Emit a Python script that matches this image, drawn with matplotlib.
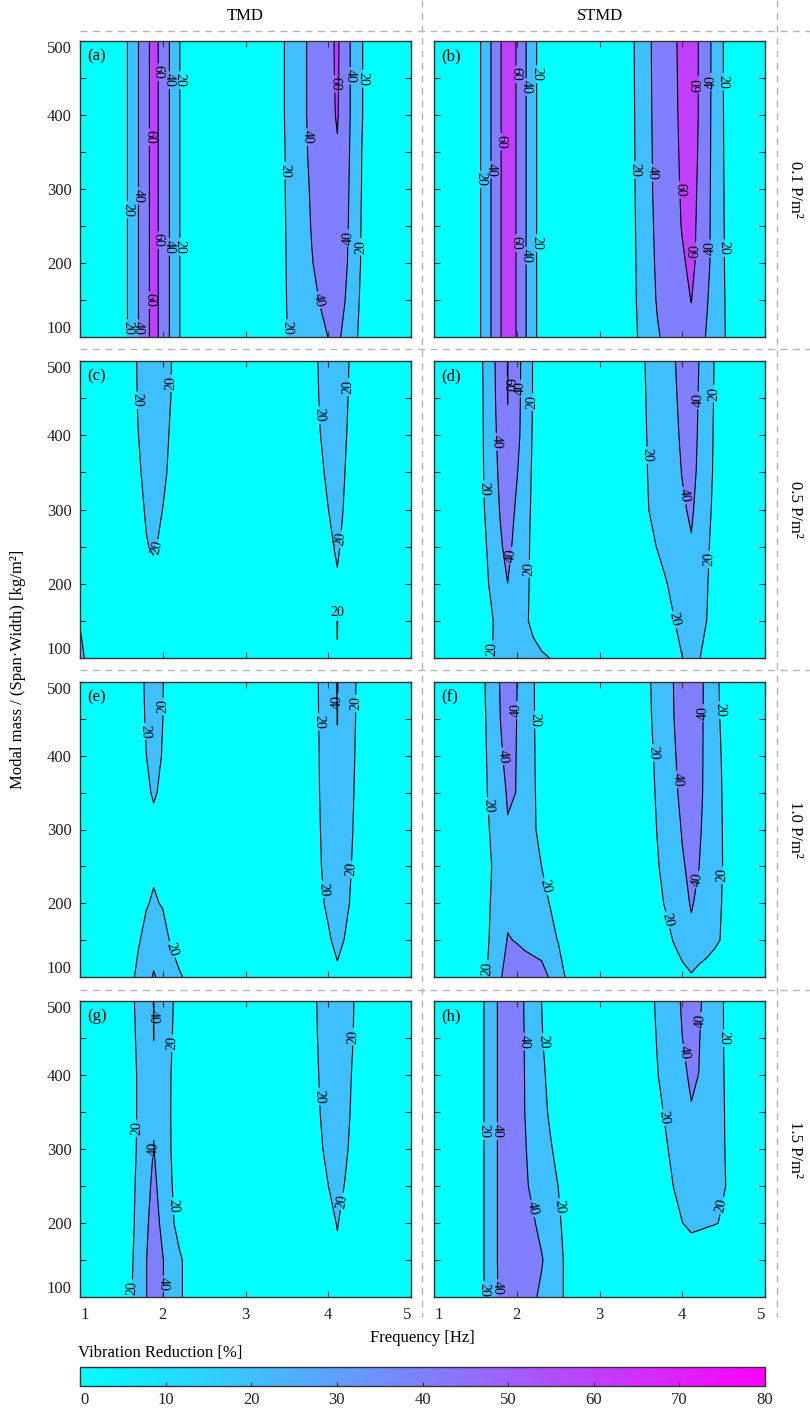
import numpy as np
import matplotlib.pyplot as plt
from matplotlib.lines import Line2D
from matplotlib.colors import Normalize
from matplotlib.cm import ScalarMappable

plt.rcParams['font.family'] = ['Liberation Serif', 'DejaVu Serif']
plt.rcParams['font.size'] = 12

# grid of the maps
freq = [1.0, 1.5, 1.6, 1.7, 1.8, 1.89, 2.0, 2.1, 2.2, 2.3, 2.4, 2.5, 2.6, 3.0,
        3.4, 3.5, 3.6, 3.7, 3.8, 3.9, 4.0, 4.11, 4.2, 4.3, 4.4, 4.5, 4.6, 5.0]
mass = [100, 150, 200, 250, 300, 350, 400, 450, 500]

# vibration reduction [%], one row per mass (100 -> 500)
tmd_01 = [
    [0, 9, 24, 39, 54, 68, 52, 37, 21, 6, 0, 0, 0, 0, 15.8, 19.8, 23.8, 27.9, 31.9, 36, 40.2, 44, 35.1, 25.4, 15.6, 5.9, 0, 0],
    [0, 9, 24, 39, 54, 68, 52, 37, 21, 6, 0, 0, 0, 0, 14.9, 20.2, 25.4, 30.6, 35.8, 40.7, 44.2, 48, 40.5, 28.6, 17.1, 5.7, 0, 0],
    [0, 9, 24, 39, 54, 68, 52, 37, 21, 6, 0, 0, 0, 0, 14.4, 20.6, 26.8, 33, 39.3, 43.5, 47.6, 52, 43.7, 32, 18.7, 5.3, 0, 0],
    [0, 9, 24, 39, 54, 68, 52, 37, 21, 6, 0, 0, 0, 0, 14.2, 21, 27.8, 34.6, 40.8, 45.1, 49.3, 54, 45, 33.1, 19.3, 5.5, 0, 0],
    [0, 9, 24, 39, 54, 68, 52, 37, 21, 6, 0, 0, 0, 0, 14.3, 21.4, 28.6, 35.7, 41.8, 46.4, 51, 56, 46.1, 33.8, 20.2, 6.2, 0, 0],
    [0, 9, 24, 39, 54, 68, 52, 37, 21, 6, 0, 0, 0, 0, 14, 21.7, 29.3, 37, 43, 48, 53, 58.5, 47.4, 34.5, 20.7, 6.9, 0, 0],
    [0, 9, 24, 39, 54, 68, 52, 37, 21, 6, 0, 0, 0, 0, 14.6, 22.3, 30, 37.6, 43.8, 49.3, 54.8, 61.5, 48.9, 35.2, 22.1, 9, 0, 0],
    [0, 9, 24, 39, 54, 68, 52, 37, 21, 6, 0, 0, 0, 0, 14.6, 22.3, 30, 37.6, 43.8, 49.3, 54.8, 62.5, 48.9, 35.2, 22.1, 9, 0, 0],
    [0, 9, 24, 39, 54, 68, 52, 37, 21, 6, 0, 0, 0, 0, 14.6, 22.3, 30, 37.6, 43.8, 49.3, 54.8, 63, 48.9, 35.2, 22.1, 9, 0, 0],
]
stmd_01 = [
    [0, 9.8, 25.8, 41.8, 58.3, 72, 58.9, 42, 26.3, 10.6, 0, 0, 0, 0, 15.4, 23.1, 30.8, 38.5, 43.1, 46.9, 50.8, 55, 47.1, 38.3, 30, 21.7, 13.3, 0],
    [0, 9.8, 25.8, 41.8, 58.3, 72, 58.9, 42, 26.3, 10.6, 0, 0, 0, 0, 16, 24.9, 33.8, 41.4, 46, 50.7, 55.3, 60.4, 51.2, 41, 31.2, 21.5, 11.7, 0],
    [0, 9.8, 25.8, 41.8, 58.3, 72, 58.9, 42, 26.3, 10.6, 0, 0, 0, 0, 16.2, 25.7, 35.2, 42.6, 47.8, 53.1, 58.3, 63, 56.9, 43.9, 32.6, 21.1, 9.7, 0],
    [0, 9.8, 25.8, 41.8, 58.3, 72, 58.9, 42, 26.3, 10.6, 0, 0, 0, 0, 16.6, 26.3, 36.1, 43.5, 49.4, 55.3, 60.8, 65, 56.8, 44.3, 32.6, 20.8, 8.9, 0],
    [0, 9.8, 25.8, 41.8, 58.3, 72, 58.9, 42, 26.3, 10.6, 0, 0, 0, 0, 17, 27, 37, 44.2, 50.1, 56.1, 61.7, 67, 57.3, 44.8, 32.7, 20.6, 8.5, 0],
    [0, 9.8, 25.8, 41.8, 58.3, 72, 58.9, 42, 26.3, 10.6, 0, 0, 0, 0, 17.3, 27.3, 37.3, 44.5, 50.5, 56.7, 62.4, 68, 58.5, 45.4, 32.7, 20.1, 7.2, 0],
    [0, 9.8, 25.8, 41.8, 58.3, 72, 58.9, 42, 26.3, 10.6, 0, 0, 0, 0, 17.5, 27.6, 37.7, 44.8, 51, 57.3, 63, 69, 59.3, 45.8, 32.8, 19.8, 6.5, 0],
    [0, 9.8, 25.8, 41.8, 58.3, 72, 58.9, 42, 26.3, 10.6, 0, 0, 0, 0, 17.8, 27.9, 38, 45, 51.3, 57.6, 63.4, 69.5, 59.3, 46, 32.9, 19.6, 6.2, 0],
    [0, 9.8, 25.8, 41.8, 58.3, 72, 58.9, 42, 26.3, 10.6, 0, 0, 0, 0, 18, 28.1, 38.2, 45.2, 51.6, 57.9, 63.8, 70, 59.3, 46.1, 32.9, 19.5, 6, 0],
]
tmd_05 = [
    [22, 3, 8, 11, 14, 19.5, 14, 11, 8, 3, 0, 0, 0, 0, 0, 0, 2, 5, 8, 11, 14, 19.7, 14, 10, 5, 2, 0, 0],
    [19.6, 3, 8, 11, 14, 15, 14, 11, 8, 3, 0, 0, 0, 0, 0, 0, 2, 5, 8, 11, 14, 20.3, 14, 10, 5, 2, 0, 0],
    [0, 4, 9, 13, 16, 17, 16, 13, 9, 3, 0, 0, 0, 0, 0, 0, 2, 5, 9, 13, 16, 19, 16, 11, 6, 2, 0, 0],
    [0, 5, 10, 15, 19.5, 21, 18, 15, 10, 4, 0, 0, 0, 0, 0, 0, 2, 6, 10, 14, 18, 21.3, 17.5, 12, 6, 2, 0, 0],
    [0, 5, 11, 17.5, 20.8, 24, 19.9, 16, 10, 4, 0, 0, 0, 0, 0, 0, 2, 6, 11, 16, 19.9, 23.5, 19, 13, 7, 2, 0, 0],
    [0, 5, 12, 18.5, 22.5, 26, 22, 18, 11, 4, 0, 0, 0, 0, 0, 0, 3, 7, 12, 18, 22, 26, 20.1, 14, 7, 2, 0, 0],
    [0, 6, 12.5, 19.7, 23.8, 27.5, 22.5, 19.1, 12, 5, 0, 0, 0, 0, 0, 0, 3, 7, 13, 19.7, 24, 27.5, 21.5, 15, 8, 2, 0, 0],
    [0, 6, 13, 20.8, 25, 29, 24, 19.9, 12, 5, 0, 0, 0, 0, 0, 0, 3, 8, 14, 21, 25, 29, 23, 15.5, 8, 2, 0, 0],
    [0, 8, 14, 21, 26, 30, 25, 20.4, 12, 5, 0, 0, 0, 0, 0, 0, 3, 8, 14, 22, 26, 30, 24, 16, 8, 2, 0, 0],
]
stmd_05 = [
    [0, 6.7, 13.2, 19.7, 26.2, 32, 29.4, 27, 24.7, 22.4, 19.9, 14, 8, 0, 0, 0, 0, 0, 6, 13, 19.8, 27, 21.6, 12, 5, 0, 0, 0],
    [0, 2, 9.5, 18.6, 27.8, 36, 29, 22.6, 16.2, 9.8, 3, 0, 0, 0, 0, 0, 3, 8.5, 14, 19.5, 25, 31, 25.6, 19.7, 13.8, 7.8, 2, 0],
    [0, 6.1, 14.8, 23.5, 32.2, 39.9, 31.5, 23.8, 16.2, 8.5, 0, 0, 0, 0, 0, 3.5, 8.6, 13.8, 19, 24.1, 29.3, 35, 28.3, 20.8, 13.3, 5.8, 0, 0],
    [0, 5.4, 16.2, 27, 37.8, 45, 33.8, 24.9, 16, 7.1, 0, 0, 0, 0, 7.4, 11.8, 16.2, 20.7, 25.1, 29.5, 33.9, 38.8, 31, 22.3, 13.7, 5, 0, 0],
    [0, 7.8, 18.9, 30, 41, 50, 36.9, 26.7, 16.4, 6.2, 0, 0, 0, 0, 11.2, 15.7, 20.2, 24.7, 29.2, 33.7, 38.2, 42, 35.4, 25.1, 14.9, 4.6, 0, 0],
    [0, 8.4, 20.1, 31.6, 43.6, 55, 41.3, 29.1, 17, 4.9, 0, 0, 0, 0, 11.2, 16.1, 21, 25.9, 30.7, 35.6, 40.5, 45.5, 36.9, 26.7, 16.5, 6.3, 0, 0],
    [0, 8.1, 20.5, 32.9, 46.1, 59, 45.1, 31.7, 17.9, 4.1, 0, 0, 0, 0, 11.3, 16.4, 21.5, 26.7, 31.8, 36.9, 42.1, 48, 37.9, 27.5, 17.1, 6.7, 0, 0],
    [0, 8, 21, 34.1, 47.7, 60.2, 45.9, 32.4, 18.6, 4.8, 0, 0, 0, 0, 11.6, 16.8, 22.1, 27.4, 32.6, 37.9, 43.5, 50, 38.9, 28.3, 17.7, 7, 0, 0],
    [0, 8.2, 21.6, 35, 48.4, 60.4, 46.4, 32.9, 18.6, 4.3, 0, 0, 0, 0, 11.9, 17.3, 22.7, 28.1, 33.5, 38.9, 45.1, 52, 40.1, 29.1, 18.3, 7.4, 0, 0],
]
tmd_10 = [
    [0, 8, 16, 23, 32, 42, 33, 27, 22, 17, 10, 4, 0, 0, 0, 0, 0, 0, 5, 9, 13, 16.9, 13, 9, 5, 0, 0, 0],
    [0, 5, 12, 18.5, 24, 30, 25.5, 18.5, 12, 6, 0, 0, 0, 0, 0, 0, 0, 2, 7.5, 12.8, 18.1, 24, 19.5, 14.5, 9.5, 4.5, 0, 0],
    [0, 5, 10, 15, 19, 21.5, 19, 15, 10, 5, 0, 0, 0, 0, 0, 0, 0, 7.5, 12.5, 17.5, 22.5, 28, 23.1, 17.6, 12.1, 6.6, 0, 0],
    [0, 4, 8, 12, 16, 18, 16, 13, 9, 4, 0, 0, 0, 0, 0, 0, 0, 6.4, 12.6, 18.9, 25.1, 32, 25.6, 18.6, 11.5, 4.5, 0, 0],
    [0, 4, 9, 13, 17, 18.5, 17, 13, 9, 4, 0, 0, 0, 0, 0, 0, 0, 5, 12.3, 19.6, 27, 35, 27.8, 19.8, 11.8, 3.8, 0, 0],
    [0, 5, 10, 15, 19, 20.6, 19, 15, 10, 5, 0, 0, 0, 0, 0, 0, 0, 4.6, 12.5, 20.4, 28.3, 37, 29.4, 20.9, 12.4, 3.9, 0, 0],
    [0, 5, 10, 15, 19.9, 23, 19.5, 15, 10, 5, 0, 0, 0, 0, 0, 0, 0, 3.5, 12, 20.9, 29.8, 39, 31, 21.9, 12.8, 3.7, 0, 0],
    [0, 6, 11, 16.3, 20.8, 24.5, 20.05, 15, 10, 5, 0, 0, 0, 0, 0, 0, 0, 3.6, 12.5, 21.5, 30.4, 40.2, 32, 22.8, 13.6, 4.4, 0, 0],
    [0, 6, 11.2, 16.3, 21.4, 26, 20.4, 15, 10, 5, 0, 0, 0, 0, 0, 0, 0, 3.9, 12.8, 21.8, 30.7, 40.6, 32.4, 23.2, 14, 4.9, 0, 0],
]
stmd_10 = [
    [0, 5, 16, 27, 38, 48, 47, 47.4, 49.4, 49.4, 37.9, 28.3, 18.3, 0, 0, 0, 0, 0, 5, 10, 14, 18, 14, 12, 10, 8, 5, 0],
    [0, 4.5, 13.9, 23.3, 32.7, 40.75, 39.3, 37, 33, 28, 24, 19.5, 15, 0, 0, 0, 0.2, 7.2, 14.2, 21.2, 28.2, 36, 31.8, 27.2, 22.6, 18, 13.4, 0],
    [0, 5.4, 13.5, 21.6, 29.7, 37, 33.3, 29.9, 26.5, 23.1, 19.7, 16.3, 12.9, 0, 0, 2.5, 8.9, 15.2, 21.6, 27.9, 34.3, 41.4, 36.4, 30.4, 24.5, 18.5, 12.5, 0],
    [0, 3.7, 12, 20.25, 28.5, 36, 31.7, 27.8, 23.9, 19.95, 16, 12, 8, 0, 0, 5.3, 12, 18.7, 25.3, 32, 38.7, 43, 40.3, 33.5, 26.3, 19.1, 11.9, 0],
    [0, 5.3, 14, 22.6, 31.2, 39, 32.9, 27.4, 21.8, 16.3, 10.8, 5, 0, 0, 0, 6.7, 13.7, 20.7, 27.7, 34.7, 40.9, 45, 41.8, 35.7, 27.2, 18.7, 10.2, 0],
    [0, 6.9, 16, 25.1, 34.2, 41.5, 39.8, 30.7, 22.2, 13.7, 5.3, 0, 0, 0, 0, 6.9, 14.6, 22.3, 30, 37.7, 42.7, 47, 42.9, 36.7, 27.4, 18.1, 8.9, 0],
    [0, 5.3, 16.2, 27.1, 38, 44, 39.7, 30.7, 21.8, 12.9, 4, 0, 0, 0, 0.8, 8.4, 16, 23.6, 31.3, 38.9, 43.5, 48, 43.4, 36.6, 26.8, 17.1, 7.3, 0],
    [0, 5.7, 17.1, 28.6, 39.9, 46, 39.9, 30.7, 21.4, 12.1, 2.8, 0, 0, 0, 3, 10.4, 17.8, 25.2, 32.6, 39.95, 44.3, 49, 43.8, 36.4, 25.8, 15.2, 4.7, 0],
    [0, 6.7, 18.2, 29.7, 40.8, 48, 40.4, 30.9, 21.2, 11.4, 1.7, 0, 0, 0, 4.1, 11.4, 18.7, 26, 33.2, 40.5, 44.9, 50, 44.3, 36.3, 25, 13.7, 2.4, 0],
]
tmd_15 = [
    [0, 5.6, 16.9, 28.1, 39.3, 50, 40.7, 31.9, 23.2, 14.5, 5.8, 0, 0, 0, 3, 5, 7, 8, 9, 11, 13, 15, 13, 11, 9, 7, 5, 0],
    [0, 3.1, 15.2, 27.2, 39.3, 50, 40.7, 31.9, 23.2, 14.5, 5.8, 0, 0, 0, 4, 6, 8, 9, 10, 12, 14, 17, 14, 12, 10, 8, 6, 0],
    [0, 1.8, 13.5, 25.3, 37.1, 47, 36, 24.2, 12.5, 0.7, 0, 0, 0, 0, 6, 8, 10, 11, 12, 13.5, 15, 20.8, 15, 13, 11, 9, 7, 0],
    [0, 2.6, 13.2, 23.7, 34.2, 44, 32.4, 21.6, 10.8, 0, 0, 0, 0, 0, 8, 10, 12, 14, 16, 18, 19.95, 22, 19.8, 17.5, 15, 12.5, 10, 0],
    [0, 2, 12, 22, 32, 40.5, 29.8, 19.9, 10, 0, 0, 0, 0, 0, 7.8, 10, 12.3, 14.6, 16.9, 19.2, 21.5, 24, 21.2, 18.2, 15.1, 12, 8.9, 0],
    [0, 3.3, 12.3, 21.4, 30.4, 38.5, 28.8, 19.7, 11, 2.3, 0, 0, 0, 0, 5.7, 8.6, 11.4, 14.3, 17.1, 19.95, 22.9, 26, 22.5, 18.6, 14.8, 10.9, 7, 0],
    [0, 3.3, 12.3, 21.4, 30.4, 38.5, 28.8, 19.95, 11.2, 2.4, 0, 0, 0, 0, 3.8, 7.2, 10.5, 13.8, 17.2, 20.5, 23.8, 27.5, 23.5, 19.1, 14.7, 10.3, 5.9, 0],
    [0, 4.5, 13.6, 22.7, 31.8, 40.1, 30.3, 21.3, 12.4, 3.5, 0, 0, 0, 0, 2.4, 6.1, 9.9, 13.6, 17.4, 21.1, 24.9, 29, 24.8, 20.05, 15.3, 10.6, 5.9, 0],
    [0, 6.3, 15, 23.7, 32.5, 40.3, 30.9, 22.4, 13.9, 5.4, 0, 0, 0, 0, 1.6, 5.6, 9.6, 13.6, 17.6, 21.6, 25.6, 30, 25.5, 20.5, 15.5, 10.5, 5.5, 0],
]
stmd_15 = [
    [0, 6.4, 19.5, 32, 43, 51, 47.5, 44.5, 42, 37.4, 30.8, 24.2, 17.5, 0, 0, 0, 0, 2, 3, 4, 5, 8, 7, 5, 3, 2, 2, 0],
    [0, 6.4, 19.5, 32.5, 43.9, 52, 49.1, 46.4, 43.7, 41.1, 34.6, 25.6, 16.7, 0, 0, 0, 0, 2, 3, 4, 5, 9, 8, 4.7, 2, 2, 2, 0],
    [0, 6.4, 19.5, 32.5, 43.9, 52, 48.2, 44.8, 41.4, 35.9, 29.2, 22.4, 15.6, 0, 0, 0, 4, 8, 12, 16, 19.8, 24, 23, 22, 20.8, 18.5, 15, 0],
    [0, 6.4, 19.5, 32.5, 43.9, 52, 46.7, 42.2, 36.7, 31.1, 25.6, 19.95, 14.4, 0, 0, 0, 6.6, 11.2, 15.8, 20.4, 25, 30, 27.8, 25.4, 23, 20.6, 18.2, 0],
    [0, 6.4, 19.5, 32.5, 43.9, 52, 46.1, 41, 34.6, 28.3, 21.9, 15.6, 9.2, 0, 0, 1.1, 6.9, 12.6, 18.3, 24, 29.7, 36, 32.4, 28.5, 24.5, 20.6, 16.6, 0],
    [0, 6.4, 19.5, 32.5, 43.9, 52, 45.8, 39.8, 32.5, 25.3, 18, 10.8, 3.6, 0, 0, 4.6, 10.3, 16, 21.7, 27.4, 33.1, 39.4, 35, 30.2, 25.3, 20.5, 15.6, 0],
    [0, 6.4, 19.5, 32.5, 43.9, 52, 45.7, 39.6, 31.6, 23.6, 15.6, 7.6, 0, 0, 0.6, 6.9, 13.1, 19.4, 25.6, 31.9, 38.1, 41.5, 39.9, 33.4, 26.9, 20.3, 13.8, 0],
    [0, 6.4, 19.5, 32.5, 43.9, 52, 45.5, 39.3, 30.3, 21.3, 12.4, 3.4, 0, 0, 1.9, 8.3, 14.6, 21, 27.3, 33.7, 39.9, 43.5, 40.8, 34.5, 27.3, 19.95, 12.7, 0],
    [0, 6.4, 19.5, 32.5, 43.9, 52, 45.4, 39, 29.5, 19.95, 10.5, 1, 0, 0, 2.6, 9.2, 15.8, 22.4, 29, 35.7, 41.4, 46, 42.1, 35.8, 27.8, 19.8, 11.8, 0],
]

# where the contour numbers sit (frequency, mass)
lbl_a = [(1.91, 458), (2.07, 447), (2.21, 447), (1.83, 370), (1.70, 291), (1.56, 272),
         (1.95, 231), (2.07, 222), (2.21, 222), (1.83, 150), (1.57, 112), (1.70, 112),
         (4.10, 442), (4.26, 453), (4.40, 449), (3.76, 370), (3.48, 325), (4.22, 234),
         (4.38, 222), (3.88, 150), (3.52, 112)]
lbl_b = [(1.96, 455), (2.10, 438), (2.26, 455), (1.81, 364), (1.68, 326), (1.56, 313),
         (1.96, 227), (2.10, 210), (2.26, 227), (4.17, 441), (4.32, 445), (4.50, 445),
         (3.43, 326), (3.63, 322), (3.97, 299), (4.13, 216), (4.31, 220), (4.50, 220)]
lbl_c = [(1.69, 447), (2.10, 470), (1.96, 247), (3.90, 427), (4.24, 465), (4.16, 260),
         (4.12, 168)]
lbl_d = [(1.89, 468), (2.06, 463), (2.18, 445), (1.75, 391), (1.60, 328), (1.91, 238),
         (2.15, 220), (1.70, 112), (4.19, 447), (4.38, 456), (3.57, 373), (4.05, 319),
         (4.32, 233), (3.90, 152)]
lbl_e = [(1.80, 433), (2.00, 467), (2.13, 138), (3.89, 446), (4.11, 473), (4.33, 471),
         (3.93, 219), (4.27, 246)]
lbl_f = [(2.00, 462), (2.21, 449), (1.82, 399), (1.66, 332), (2.36, 223), (1.64, 111),
         (4.25, 458), (4.46, 462), (3.67, 404), (3.93, 368), (4.18, 232), (4.48, 238),
         (3.85, 178)]
lbl_g = [(1.89, 479), (2.11, 443), (1.65, 328), (1.82, 301), (2.14, 223), (1.62, 112),
         (2.00, 117), (4.30, 452), (3.89, 371), (4.18, 229)]
lbl_h = [(2.08, 445), (2.32, 445), (1.60, 324), (1.78, 324), (2.21, 220), (2.52, 222),
         (1.58, 110), (1.75, 112), (4.25, 473), (4.01, 430), (4.49, 450), (3.79, 343),
         (4.46, 224)]

panels = [tmd_01, stmd_01, tmd_05, stmd_05, tmd_10, stmd_10, tmd_15, stmd_15]
label_pos = [lbl_a, lbl_b, lbl_c, lbl_d, lbl_e, lbl_f, lbl_g, lbl_h]
tags = ['(a)', '(b)', '(c)', '(d)', '(e)', '(f)', '(g)', '(h)']
col_titles = ['TMD', 'STMD']
row_titles = ['0.1 P/m²', '0.5 P/m²', '1.0 P/m²', '1.5 P/m²']
levels = [0, 20, 40, 60, 80]

W, H = 810, 1410
def box(l, t, r, b):
    return [l / W, 1 - b / H, (r - l) / W, (b - t) / H]

cols_px = [(80, 411), (434, 765)]
rows_px = [(41, 337), (361, 658), (682, 977), (1001, 1297)]

cmap = plt.get_cmap('cool')
fills = [cmap(0.0), cmap(0.25), cmap(0.5), cmap(0.75)]

fig = plt.figure(figsize=(8.1, 14.1), dpi=100)

for k, Z in enumerate(panels):
    r, c = divmod(k, 2)
    ax = fig.add_axes(box(cols_px[c][0], rows_px[r][0], cols_px[c][1], rows_px[r][1]))
    Z = np.array(Z)
    ax.contourf(freq, mass, Z, levels=levels, colors=fills)
    cs = ax.contour(freq, mass, Z, levels=[20, 40, 60], colors='k', linewidths=0.8)
    ax.set_xlim(1, 5)
    ax.set_ylim(100, 500)
    ax.clabel(cs, fmt='%d', fontsize=10, inline=True, inline_spacing=2,
              manual=label_pos[k])
    ax.set_xticks([1, 2, 3, 4, 5])
    ax.set_yticks([100, 200, 300, 400, 500])
    ax.set_yticks([150, 250, 350, 450], minor=True)
    ax.tick_params(which='both', direction='in', top=True, right=True,
                   length=4, width=0.8, colors='#333333', labelcolor='#222222', labelsize=12)
    ax.tick_params(axis='y', pad=6)
    ax.tick_params(axis='x', pad=7)
    for s in ax.spines.values():
        s.set_color('#333333')
        s.set_linewidth(1)
    if c == 1:
        ax.set_yticklabels([])
    else:
        yt = ax.yaxis.get_major_ticks()
        yt[0].label1.set_va('bottom')
        yt[-1].label1.set_va('top')
    if r < 3:
        ax.set_xticklabels([])
    else:
        xt = ax.xaxis.get_major_ticks()
        xt[0].label1.set_ha('left')
        xt[-1].label1.set_ha('right')
    ax.text(0.022, 0.975, tags[k], transform=ax.transAxes, ha='left', va='top', fontsize=12)

# titles around the grid
for c in range(2):
    fig.text((cols_px[c][0] + cols_px[c][1]) / 2 / W, 1 - 16 / H, col_titles[c],
             ha='center', va='center', fontsize=12)
for r in range(4):
    fig.text(795 / W, 1 - (rows_px[r][0] + rows_px[r][1]) / 2 / H, row_titles[r],
             rotation=-90, ha='center', va='center', fontsize=12)

fig.text(18 / W, 1 - 669 / H, 'Modal mass / (Span·Width) [kg/m²]',
         rotation=90, ha='center', va='center', fontsize=12)
fig.text(422 / W, 1 - 1338 / H, 'Frequency [Hz]', ha='center', va='center', fontsize=12)

# dashed separators
for y in [30.7, 349, 670, 990]:
    fig.add_artist(Line2D([80 / W, 1], [1 - y / H, 1 - y / H], transform=fig.transFigure,
                          color='#b5b5b5', lw=1, ls=(0, (5, 4))))
for x in [422, 777]:
    fig.add_artist(Line2D([x / W, x / W], [1, 1 - 1317 / H], transform=fig.transFigure,
                          color='#b5b5b5', lw=1, ls=(0, (5, 4))))

# colour bar
cax = fig.add_axes(box(80, 1367, 765, 1386))
sm = ScalarMappable(norm=Normalize(0, 80), cmap=cmap)
cb = fig.colorbar(sm, cax=cax, orientation='horizontal', ticks=list(range(0, 81, 10)))
cb.outline.set_linewidth(1)
cb.outline.set_edgecolor('#333333')
cax.tick_params(direction='in', length=3, width=0.8, labelsize=12, pad=4, colors='#333333',
                labelcolor='#222222')
cax.xaxis.get_major_ticks()[0].label1.set_ha('left')
fig.text(78 / W, 1 - 1353 / H, 'Vibration Reduction [%]', ha='left', va='center', fontsize=12)

fig.savefig('out.png', dpi=100)
